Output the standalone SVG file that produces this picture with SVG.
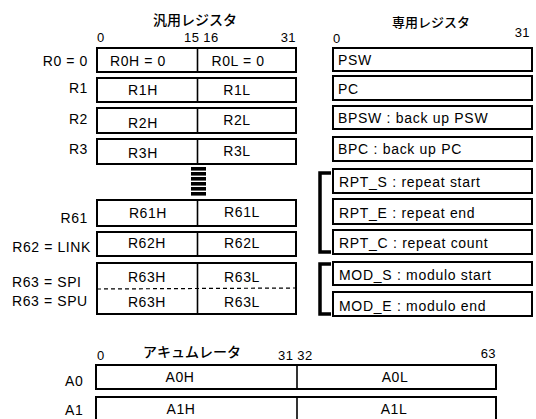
<svg xmlns="http://www.w3.org/2000/svg" width="536" height="419" viewBox="0 0 536 419">
<style>
text{font-family:"Liberation Sans",Arial,sans-serif;font-size:14px;letter-spacing:0.6px;fill:#000}
.t{font-family:"Noto Sans CJK JP","Noto Sans CJK SC",sans-serif;letter-spacing:0;font-size:14px;font-weight:500}
.c{text-anchor:middle}
.e{text-anchor:end}
.n{font-size:13px;letter-spacing:0.4px}
.r{letter-spacing:0.7px}
.box{fill:#fff;stroke:#000;stroke-width:2}
.div{stroke:#000;stroke-width:1.6}
.br{fill:none;stroke:#000;stroke-width:3.5}
</style>
<rect width="536" height="419" fill="#fff"/>
<!-- titles and bit numbers -->
<text class="t" x="153" y="25">汎用レジスタ</text>
<text class="t" x="392" y="27" style="font-size:13px">専用レジスタ</text>
<text class="n" x="97" y="42">0</text>
<text class="n" x="184" y="42">15 16</text>
<text class="n e" x="296" y="42">31</text>
<text class="n" x="333" y="43">0</text>
<text class="n e" x="530" y="37">31</text>

<!-- general registers -->
<g id="R0"><text class="e" x="88" y="66">R0 = 0</text><rect class="box" x="97" y="48" width="199" height="24"/><line class="div" x1="197.5" y1="48" x2="197.5" y2="72"/><text class="c" x="138" y="66">R0H = 0</text><text class="c" x="238" y="66">R0L = 0</text></g>
<g id="R1"><text class="e" x="88" y="93">R1</text><rect class="box" x="97" y="78" width="199" height="24"/><line class="div" x1="197.5" y1="78" x2="197.5" y2="102"/><text class="c" x="143" y="95">R1H</text><text class="c" x="237" y="95">R1L</text></g>
<g id="R2"><text class="e" x="88" y="124">R2</text><rect class="box" x="97" y="108" width="199" height="25"/><line class="div" x1="197.5" y1="108" x2="197.5" y2="133"/><text class="c" x="143" y="128">R2H</text><text class="c" x="237" y="125">R2L</text></g>
<g id="R3"><text class="e" x="88" y="154">R3</text><rect class="box" x="97" y="139" width="199" height="25"/><line class="div" x1="197.5" y1="139" x2="197.5" y2="164"/><text class="c" x="143" y="158">R3H</text><text class="c" x="237" y="156">R3L</text></g>
<g id="ellipsis"><rect x="191" y="167" width="15" height="3.6"/><rect x="191" y="172" width="15" height="3.6"/><rect x="191" y="177" width="15" height="3.6"/><rect x="191" y="182" width="15" height="3.6"/><rect x="191" y="187" width="15" height="3.6"/><rect x="191" y="192" width="15" height="3.6"/></g>
<g id="R61"><text class="e" x="88" y="223">R61</text><rect class="box" x="97" y="200" width="199" height="26"/><line class="div" x1="197.5" y1="200" x2="197.5" y2="226"/><text class="c" x="148" y="218">R61H</text><text class="c" x="242" y="217">R61L</text></g>
<g id="R62"><text class="e" x="91" y="252">R62 = LINK</text><rect class="box" x="97" y="232" width="199" height="24"/><line class="div" x1="197.5" y1="232" x2="197.5" y2="256"/><text class="c" x="147" y="248">R62H</text><text class="c" x="242" y="248">R62L</text></g>
<g id="R63"><text x="12" y="287">R63 = SPI</text><text x="12" y="306">R63 = SPU</text><rect class="box" x="97" y="263" width="199" height="51"/><line class="div" x1="197.5" y1="263" x2="197.5" y2="314"/><line x1="97" y1="289" x2="296" y2="288" stroke="#000" stroke-width="1.2" stroke-dasharray="4,3"/><text class="c" x="147" y="282">R63H</text><text class="c" x="242" y="282">R63L</text><text class="c" x="147" y="307">R63H</text><text class="c" x="242" y="307">R63L</text></g>

<!-- special registers -->
<g id="PSW"><rect class="box" x="333" y="48" width="199" height="23"/><text class="r" x="338" y="65">PSW</text></g>
<g id="PC"><rect class="box" x="333" y="76" width="199" height="24"/><text class="r" x="338" y="94">PC</text></g>
<g id="BPSW"><rect class="box" x="333" y="106" width="199" height="23"/><text class="r" x="338" y="123">BPSW : back up PSW</text></g>
<g id="BPC"><rect class="box" x="333" y="137" width="199" height="24"/><text class="r" x="338" y="154">BPC : back up PC</text></g>
<g id="RPT_S"><rect class="box" x="333" y="169" width="199" height="24"/><text class="r" x="339" y="187">RPT_S : repeat start</text></g>
<g id="RPT_E"><rect class="box" x="333" y="199" width="199" height="25"/><text class="r" x="339" y="218">RPT_E : repeat end</text></g>
<g id="RPT_C"><rect class="box" x="333" y="230" width="199" height="24"/><text class="r" x="339" y="248">RPT_C : repeat count</text></g>
<g id="MOD_S"><rect class="box" x="333" y="262" width="199" height="23"/><text class="r" x="339" y="280">MOD_S : modulo start</text></g>
<g id="MOD_E"><rect class="box" x="333" y="292" width="199" height="24"/><text class="r" x="339" y="311">MOD_E : modulo end</text></g>
<g id="brackets"><path class="br" d="M331,173 H320 V252 H331"/><path class="br" d="M331,264 H320 V314 H331"/></g>

<!-- accumulators -->
<text class="t" x="143" y="357">アキュムレータ</text>
<text class="n" x="97" y="360">0</text>
<text class="n" x="278" y="360">31 32</text>
<text class="n e" x="496" y="358">63</text>
<g id="A0"><text x="65" y="386">A0</text><rect class="box" x="96" y="365" width="400" height="24"/><line class="div" x1="297" y1="365" x2="297" y2="389"/><text class="c" x="180" y="382">A0H</text><text class="c" x="395" y="382">A0L</text></g>
<g id="A1"><text x="65" y="415">A1</text><rect class="box" x="96" y="397" width="400" height="30"/><line class="div" x1="297" y1="397" x2="297" y2="427"/><text class="c" x="181" y="414">A1H</text><text class="c" x="394" y="414">A1L</text></g>
</svg>
